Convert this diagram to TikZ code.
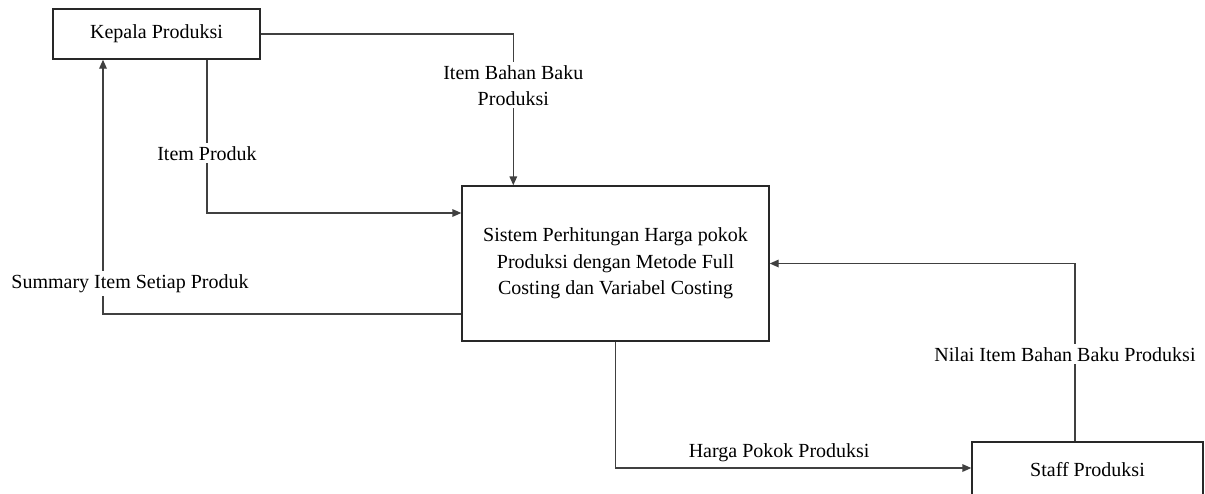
\documentclass[tikz,border=0pt]{standalone}
\definecolor{linegray}{RGB}{64, 64, 64}
\definecolor{boxgray}{RGB}{40, 40, 40}
\usepackage{fontspec}
\setmainfont{Liberation Serif}
\usepackage{tikz}
\usetikzlibrary{
    arrows.meta,
    positioning,
    calc
}

\begin{document}
\begin{tikzpicture}[x=0.5pt, y=-0.5pt,
        entitybox/.style={draw=boxgray, line width=0.7pt, fill=white, inner sep=2pt,
                          font=\fontsize{10}{13.2}\selectfont, align=center},
        flowline/.style={draw=linegray, line width=0.7pt, -{Triangle[length=4.5pt, width=3.8pt]}},
        flowlabel/.style={fill=white, inner sep=1.5pt, font=\fontsize{10}{13}\selectfont, align=center}]
        \useasboundingbox (0,0) rectangle (1205,493);

        % Entitas dan sistem
        \node[entitybox, minimum width=103.5pt, minimum height=25pt] (kepala) at (156.5,34) {Kepala Produksi};
        \node[entitybox, minimum width=153.5pt, minimum height=77.5pt] (sistem) at (615.5,263.5)
            {Sistem Perhitungan Harga pokok\\Produksi dengan Metode Full\\Costing dan Variabel Costing};
        \node[entitybox, minimum width=115.5pt, minimum height=28pt] (staff) at (1087.5,470) {Staff Produksi};

        % Aliran data dari Kepala Produksi
        \draw[flowline] (kepala.east) -| node[flowlabel, pos=0.67] (lblbahan) {Item Bahan Baku\\Produksi}
            ([xshift=26pt]sistem.north west);
        \draw[flowline] ([xshift=25.25pt]kepala.south) |- node[flowlabel, pos=0.305] (lblproduk) {Item Produk}
            ([yshift=25.25pt]sistem.west);

        % Aliran data ke Kepala Produksi
        \draw[flowline] ([yshift=-25.25pt]sistem.west) -| node[flowlabel, pos=0.56, xshift=13.5pt] (lblsummary) {Summary Item Setiap Produk}
            ([xshift=-26.75pt]kepala.south);

        % Aliran data dengan Staff Produksi
        \draw[flowline] ([xshift=-6.25pt]staff.north) |- node[flowlabel, pos=0.245, xshift=-5pt] (lblnilai) {Nilai Item Bahan Baku Produksi}
            (sistem.east);
        \draw[flowline] (sistem.south) |- node[above, pos=0.73, inner sep=2.5pt, font=\fontsize{10}{13}\selectfont] (lblharga) {Harga Pokok Produksi}
            ([yshift=1pt]staff.west);
    \end{tikzpicture}
\end{document}
